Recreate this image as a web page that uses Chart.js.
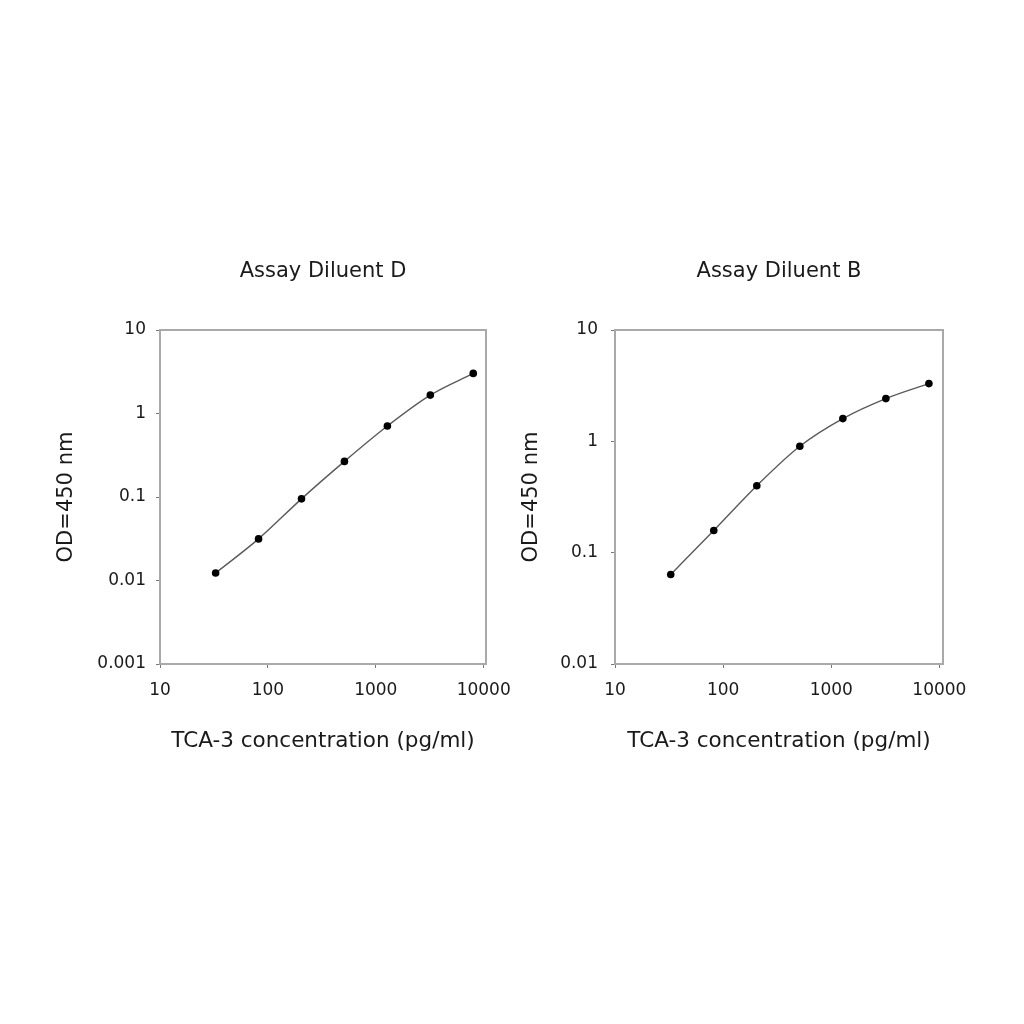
<!DOCTYPE html>
<html>
<head>
<meta charset="utf-8">
<script src="https://cdn.jsdelivr.net/npm/chart.js@4.4.1/dist/chart.umd.min.js"></script>
<style>
  html, body { margin: 0; padding: 0; background: #ffffff; }
  body { width: 1024px; height: 1024px; position: relative; overflow: hidden; }
  canvas { position: absolute; }
</style>
</head>
<body>
<canvas id="chartD" width="480" height="540" style="left:30px; top:240px;"></canvas>
<canvas id="chartB" width="480" height="540" style="left:505px; top:240px;"></canvas>
<script>
// ---- Data ----
const concentrations = [32.768, 81.92, 204.8, 512, 1280, 3200, 8000];   // pg/ml
const odDiluentD = [0.0123, 0.0315, 0.095, 0.267, 0.708, 1.66, 3.02];
const odDiluentB = [0.0637, 0.158, 0.399, 0.903, 1.60, 2.42, 3.30];
const xTickValues = [10, 100, 1000, 10000];
const yTickValuesD = [0.001, 0.01, 0.1, 1, 10];
const yTickValuesB = [0.01, 0.1, 1, 10];
const titleD = 'Assay Diluent D';
const titleB = 'Assay Diluent B';
const xTitle = 'TCA-3 concentration (pg/ml)';
const yTitle = 'OD=450 nm';

Chart.defaults.font.family = "'DejaVu Sans', sans-serif";
Chart.defaults.color = '#1a1a1a';

const framePlugin = {
  id: 'frame',
  afterDatasetsDraw(chart) {
    const a = chart.chartArea;
    const ctx = chart.ctx;
    ctx.save();
    ctx.strokeStyle = '#a9a9a9';
    ctx.lineWidth = 2;
    ctx.strokeRect(a.left, a.top, a.right - a.left, a.bottom - a.top);
    ctx.restore();
  }
};

function makeChart(id, title, values, yTicks, cfg) {
  const pts = concentrations.map((c, i) => ({ x: c, y: values[i] }));
  return new Chart(document.getElementById(id), {
    type: 'scatter',
    data: {
      datasets: [{
        data: pts,
        showLine: true,
        borderColor: '#5a5a5a',
        borderWidth: 1.4,
        cubicInterpolationMode: 'monotone',
        pointRadius: 3.8,
        pointBackgroundColor: '#000000',
        pointBorderColor: '#000000',
        pointBorderWidth: 0
      }]
    },
    plugins: [framePlugin],
    options: {
      responsive: false,
      animation: false,
      layout: { padding: { left: 0, top: 0, right: cfg.padRight, bottom: 0 } },
      plugins: {
        legend: { display: false },
        tooltip: { enabled: false },
        title: {
          display: true,
          text: title,
          fullSize: false,
          color: '#1a1a1a',
          font: { size: 21, weight: 'normal' },
          padding: { top: 19.1, bottom: 45.7 }
        }
      },
      scales: {
        x: {
          type: 'logarithmic',
          min: 10,
          max: cfg.xMax,
          afterBuildTicks: s => { s.ticks = xTickValues.map(v => ({ value: v })); },
          afterFit: s => { s.height = 116; s.paddingLeft = 0; s.paddingRight = 0; },
          border: { display: false },
          grid: { drawOnChartArea: false, drawTicks: true, tickLength: 4, color: '#777777' },
          ticks: {
            autoSkip: false, maxRotation: 0, padding: 12.8,
            font: { size: 17 }, color: '#1a1a1a',
            callback: v => String(v)
          },
          title: {
            display: true, text: xTitle, color: '#1a1a1a',
            font: { size: 21.5 }, padding: { top: 0, bottom: 25.4 }
          }
        },
        y: {
          type: 'logarithmic',
          min: yTicks[0],
          max: yTicks[yTicks.length - 1],
          afterBuildTicks: s => { s.ticks = yTicks.map(v => ({ value: v })); },
          afterFit: s => { s.width = cfg.yWidth; s.paddingTop = 0; s.paddingBottom = 0; },
          border: { display: false },
          grid: { drawOnChartArea: false, drawTicks: true, tickLength: 4, color: '#777777' },
          ticks: {
            autoSkip: false, padding: cfg.yTickPad,
            font: { size: 17 }, color: '#1a1a1a',
            callback: v => String(v)
          },
          title: {
            display: true, text: yTitle, color: '#1a1a1a',
            font: { size: 21 }, padding: { top: cfg.yTitlePad, bottom: 0 }
          }
        }
      }
    }
  });
}

makeChart('chartD', titleD, odDiluentD, yTickValuesD,
  { padRight: 24, yWidth: 130, yTickPad: 10, yTitlePad: 24, xMax: 10500 });
makeChart('chartB', titleB, odDiluentB, yTickValuesB,
  { padRight: 42, yWidth: 110, yTickPad: 13, yTitlePad: 14, xMax: 10800 });
</script>
</body>
</html>
